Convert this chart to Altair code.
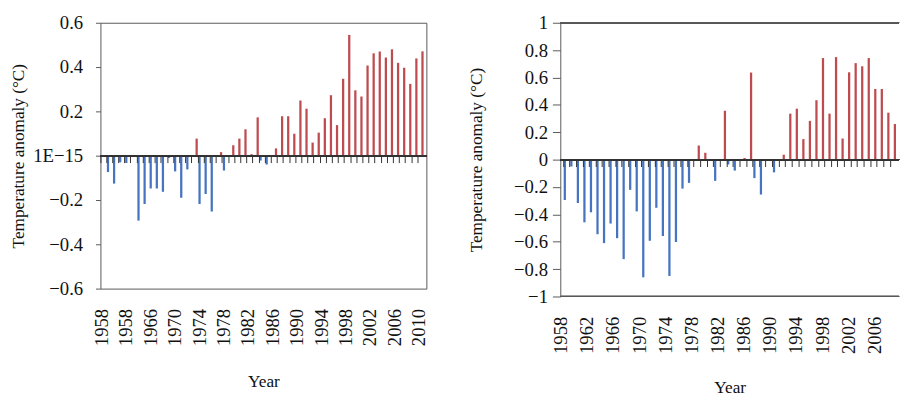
import altair as alt
import pandas as pd

# ---------------- data ----------------
YEARS = list(range(1958, 2011))
RIGHT_YEARS = list(range(1958, 2009))   # right panel: picture is cut after 2008

# left panel: 1958-2010
LEFT_VALUES = [0.0, -0.074, -0.126, -0.030, -0.033, 0.0, -0.293, -0.218, -0.148, -0.148,
               -0.163, -0.010, -0.071, -0.190, -0.062, 0.077, -0.218, -0.173, -0.252, 0.016,
               -0.067, 0.047, 0.077, 0.119, 0.007, 0.173, -0.022, -0.040, 0.033, 0.178,
               0.178, 0.099, 0.249, 0.212, 0.059, 0.104, 0.169, 0.273, 0.138, 0.347,
               0.545, 0.295, 0.267, 0.407, 0.462, 0.470, 0.443, 0.480, 0.419, 0.397,
               0.324, 0.439, 0.471]

# right panel: 1958-2008
RIGHT_VALUES = [-0.295, -0.050, -0.317, -0.458, -0.385, -0.545, -0.610, -0.467, -0.574, -0.727,
                -0.221, -0.378, -0.860, -0.593, -0.352, -0.558, -0.850, -0.602, -0.212, -0.170,
                0.103, 0.050, 0.0, -0.155, 0.357, -0.035, -0.080, 0.012, 0.636, -0.135,
                -0.255, 0.0, -0.093, 0.036, 0.336, 0.372, 0.150, 0.283, 0.434, 0.742,
                0.336, 0.749, 0.154, 0.638, 0.705, 0.682, 0.742, 0.516, 0.516, 0.343,
                0.260]

LEFT_TICK_YEARS = [1958, 1962, 1966, 1970, 1974, 1978, 1982, 1986, 1990, 1994, 1998, 2002, 2006, 2010]
LEFT_TICK_LABELS = ["1958", "1958", "1966", "1970", "1974", "1978", "1982", "1986",
                    "1990", "1994", "1998", "2002", "2006", "2010"]
RIGHT_TICK_YEARS = [1958, 1962, 1966, 1970, 1974, 1978, 1982, 1986, 1990, 1994, 1998, 2002, 2006]
RIGHT_TICK_LABELS = ["1958", "1962", "1966", "1970", "1974", "1978", "1982", "1986",
                     "1990", "1994", "1998", "2002", "2006"]

LEFT_Y_TICKS = [-0.6, -0.4, -0.2, 0.0, 0.2, 0.4, 0.6]
RIGHT_Y_TICKS = [-1.0, -0.8, -0.6, -0.4, -0.2, 0.0, 0.2, 0.4, 0.6, 0.8, 1.0]

Y_TITLE = "Temperature anomaly (°C)"
X_TITLE = "Year"

BLUE = "#4674C1"
RED = "#BE4B4F"
AX = "#595959"
ZERO = "#333333"
FONT = "Liberation Serif"


def make_df(years, values):
    df = pd.DataFrame({"year": years[:len(values)], "value": values})
    df["sign"] = ["neg" if v < 0 else "pos" for v in df["value"]]
    return df


def label_expr(years, labels):
    arr = "[" + ",".join("'" + s + "'" for s in labels) + "]"
    vals = "[" + ",".join(str(v) for v in years) + "]"
    return f"{arr}[indexof({vals}, datum.value)]"


def panel(years, values, width, height, ydom, yticks, ylabel_expr, tick_years, x_labels,
          pad_outer, align, label_offset, ytick_size, ylabel_pad, ytitle_pad,
          xtitle_pad, boxed):
    df = make_df(years, values)
    xscale = alt.Scale(domain=years, paddingInner=0, paddingOuter=pad_outer, align=align)
    yscale = alt.Scale(domain=ydom, nice=False, zero=False)
    yaxis = alt.Axis(
        values=yticks, labelExpr=ylabel_expr, domain=not boxed, domainColor=AX,
        ticks=True, tickSize=ytick_size, tickColor=AX, grid=False, labelOverlap=False,
        labelPadding=ylabel_pad, title=Y_TITLE, titlePadding=ytitle_pad)

    bars = alt.Chart(df).mark_bar().encode(
        x=alt.X("year:O", scale=xscale, axis=alt.Axis(
            orient="bottom", values=tick_years, labelExpr=label_expr(tick_years, x_labels),
            labelAngle=-90, domain=False, ticks=False, tickSize=0, grid=False,
            labelPadding=20, labelOffset=label_offset, labelOverlap=False,
            title=X_TITLE, titlePadding=xtitle_pad)),
        xOffset=alt.XOffset("sign:N", scale=alt.Scale(domain=["neg", "pos"],
                                                      paddingInner=0.3, paddingOuter=0.1)),
        y=alt.Y("value:Q", scale=yscale, axis=yaxis),
        color=alt.Color("sign:N", scale=alt.Scale(domain=["neg", "pos"], range=[BLUE, RED]),
                        legend=None),
    )

    tick_axis = alt.Chart(df).mark_rule(opacity=0).encode(
        x=alt.X("year:O", scale=xscale, axis=alt.Axis(
            orient="bottom", offset=-(height / 2), labels=False,
            title=None, domain=False, ticks=True, tickColor=ZERO, tickSize=7,
            bandPosition=0, grid=False, zindex=1)),
    )

    zero_line = alt.Chart(df).mark_rule(color=ZERO, strokeWidth=1.2).encode(
        y=alt.YDatum(0, scale=yscale, axis=yaxis))

    layers = [bars, tick_axis, zero_line]
    if not boxed:
        top_line = alt.Chart(df).mark_rule(color=AX, strokeWidth=1).encode(
            y=alt.YDatum(ydom[1], scale=yscale, axis=yaxis))
        bottom_line = alt.Chart(df).mark_rule(color=AX, strokeWidth=1).encode(
            y=alt.YDatum(ydom[0], scale=yscale, axis=yaxis))
        layers += [top_line, bottom_line]

    view = alt.ViewConfig(stroke=AX if boxed else "transparent", strokeWidth=1)
    return alt.layer(*layers).resolve_axis(x="independent").properties(
        width=width, height=height, view=view)


left = panel(
    YEARS, LEFT_VALUES, 331, 270, [-0.6, 0.6], LEFT_Y_TICKS,
    "abs(datum.value) < 1e-9 ? '1E\u221215' : format(datum.value, '.1~f')",
    LEFT_TICK_YEARS, LEFT_TICK_LABELS, 0.2, 0, -1.5, 5, 13, 5, 27, True)

right = panel(
    RIGHT_YEARS, RIGHT_VALUES, 344, 278, [-1.0, 1.0], RIGHT_Y_TICKS,
    "format(datum.value, '.1~f')",
    RIGHT_TICK_YEARS, RIGHT_TICK_LABELS, 0.4075, 0.577, -5.5, 8, 5, 29, 25, False)

chart = alt.hconcat(left, right, spacing=38).properties(
    padding={"left": 9, "top": 10, "right": 0, "bottom": 0},
    background="white",
).configure_axis(
    labelFont=FONT, titleFont=FONT, labelFontSize=19, titleFontSize=17.5,
    titleFontWeight="normal", labelColor="#111111", titleColor="#111111"
)

chart.save("out.html", embed_options={"renderer": "svg", "actions": False})
